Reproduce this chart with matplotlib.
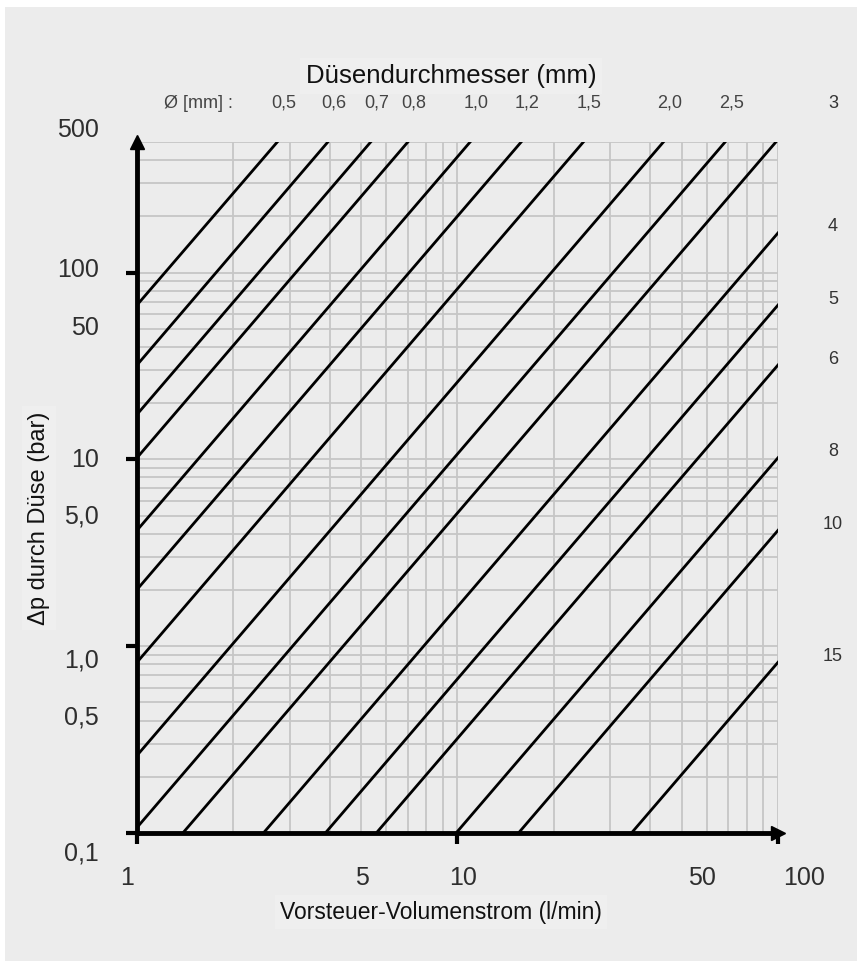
import matplotlib.pyplot as plt
from matplotlib.patches import Rectangle
from matplotlib.ticker import LogLocator, NullFormatter
from matplotlib.transforms import Affine2D

plt.rcParams['font.family'] = ['Liberation Sans', 'DejaVu Sans']

# Duesendurchmesser der Kennlinien (mm)
diameters = ["0,5", "0,6", "0,7", "0,8", "1,0", "1,2", "1,5", "2,0", "2,5",
             "3", "4", "5", "6", "8", "10", "15"]
# Anfangs- und Endpunkt jeder Kennlinie (Q in l/min, dp in bar)
q_start = [1, 1, 1, 1, 1, 1, 1, 1, 1, 1.39, 2.48, 3.87, 5.58, 9.9, 15.5, 34.9]
dp_start = [67, 32, 17.4, 10.2, 4.17, 2.01, 0.82, 0.26, 0.107,
            0.1, 0.1, 0.1, 0.1, 0.1, 0.1, 0.1]
q_end = [2.74, 3.94, 5.36, 7.0, 10.95, 15.8, 24.7, 43.9, 68.4,
         98.5, 100, 100, 100, 100, 100, 100]
dp_end = [500, 500, 500, 500, 500, 500, 500, 500, 500,
          500, 163, 67, 32, 10.2, 4.17, 0.82]

x_ticks = [1, 5, 10, 50, 100]
x_tick_labels = ["1", "5", "10", "50", "100"]
y_ticks = [0.1, 0.5, 1, 5, 10, 50, 100, 500]
y_tick_labels = ["0,1", "0,5", "1,0", "5,0", "10", "50", "100", "500"]

# pixel offsets of the tick labels as they sit in the original drawing
x_label_dx = [-10, 1, 6, 20, 26]
y_label_dy = [-21, -15, -14, -1, -1, 1, 3, 12]

fig = plt.figure(figsize=(8.62, 9.66), dpi=100, facecolor='white')
fig.patches.append(Rectangle((5 / 862, 5 / 966), 852 / 862, 954 / 966,
                             transform=fig.transFigure, facecolor='#ececec',
                             edgecolor='none', zorder=-1))

ax = fig.add_axes([137 / 862, 1 - 833 / 966, 641 / 862, 691 / 966])
ax.set_facecolor('none')
ax.set_xscale('log')
ax.set_yscale('log')
ax.set_xlim(1, 100)
ax.set_ylim(0.1, 500)

for axis in (ax.xaxis, ax.yaxis):
    axis.set_major_locator(LogLocator(base=10))
    axis.set_minor_locator(LogLocator(base=10, subs=range(2, 10)))
    axis.set_major_formatter(NullFormatter())
    axis.set_minor_formatter(NullFormatter())

ax.grid(which='both', color='#c6c6c6', lw=1.3)
ax.set_axisbelow(True)
ax.tick_params(which='major', length=8, width=3, direction='out', color='black')
ax.tick_params(which='minor', length=0)
for side in ('top', 'right'):
    ax.spines[side].set_visible(False)
for side in ('left', 'bottom'):
    ax.spines[side].set_linewidth(3.5)
    ax.spines[side].set_zorder(5)

# Kennlinien
for qs, ds, qe, de in zip(q_start, dp_start, q_end, dp_end):
    ax.plot([qs, qe], [ds, de], color='black', lw=2, zorder=3)

# Pfeile an den Achsen
ax.plot(0, 1, marker='^', ms=10, color='black', transform=ax.transAxes,
        clip_on=False, zorder=6)
ax.plot(1, 0, marker='>', ms=10, color='black', transform=ax.transAxes,
        clip_on=False, zorder=6)

xt = ax.get_xaxis_transform()
yt = ax.get_yaxis_transform()

for v, lab, dx in zip(x_ticks, x_tick_labels, x_label_dx):
    ax.text(v, 0, lab, transform=xt + Affine2D().translate(dx, -45),
            ha='center', va='center', fontsize=18, color='#2e2e2e')

for v, lab, dy in zip(y_ticks, y_tick_labels, y_label_dy):
    ax.text(0, v, lab, transform=yt + Affine2D().translate(-38, dy),
            ha='right', va='center', fontsize=18, color='#2e2e2e')

# Durchmesser-Beschriftung an den Linienenden
ax.text(0, 1, "Ø [mm] :", transform=ax.transAxes + Affine2D().translate(61, 39),
        ha='center', va='center', fontsize=13, color='#444444')
for lab, qe, de in zip(diameters, q_end, dp_end):
    if qe < 90:
        ax.text(qe, 1, lab, transform=xt + Affine2D().translate(6, 39),
                ha='center', va='center', fontsize=13, color='#444444')
    else:
        dy = 39 if de >= 500 else 6
        ax.text(1, de, lab, transform=yt + Affine2D().translate(55, dy),
                ha='center', va='center', fontsize=13, color='#333333')

box = dict(facecolor='#efefef', edgecolor='none', pad=4)
fig.text(451 / 862, 1 - 76 / 966, "Düsendurchmesser (mm)", ha='center',
         va='center', fontsize=18.5, color='#111111', bbox=box)
fig.text(441 / 862, 1 - 912 / 966, "Vorsteuer-Volumenstrom (l/min)", ha='center',
         va='center', fontsize=16.5, color='#111111', bbox=box)
fig.text(39 / 862, 1 - 518 / 966, "Δp durch Düse (bar)", ha='center',
         va='center', rotation=90, fontsize=17, color='#111111', bbox=box)

fig.savefig('out.png', dpi=100, facecolor=fig.get_facecolor())
